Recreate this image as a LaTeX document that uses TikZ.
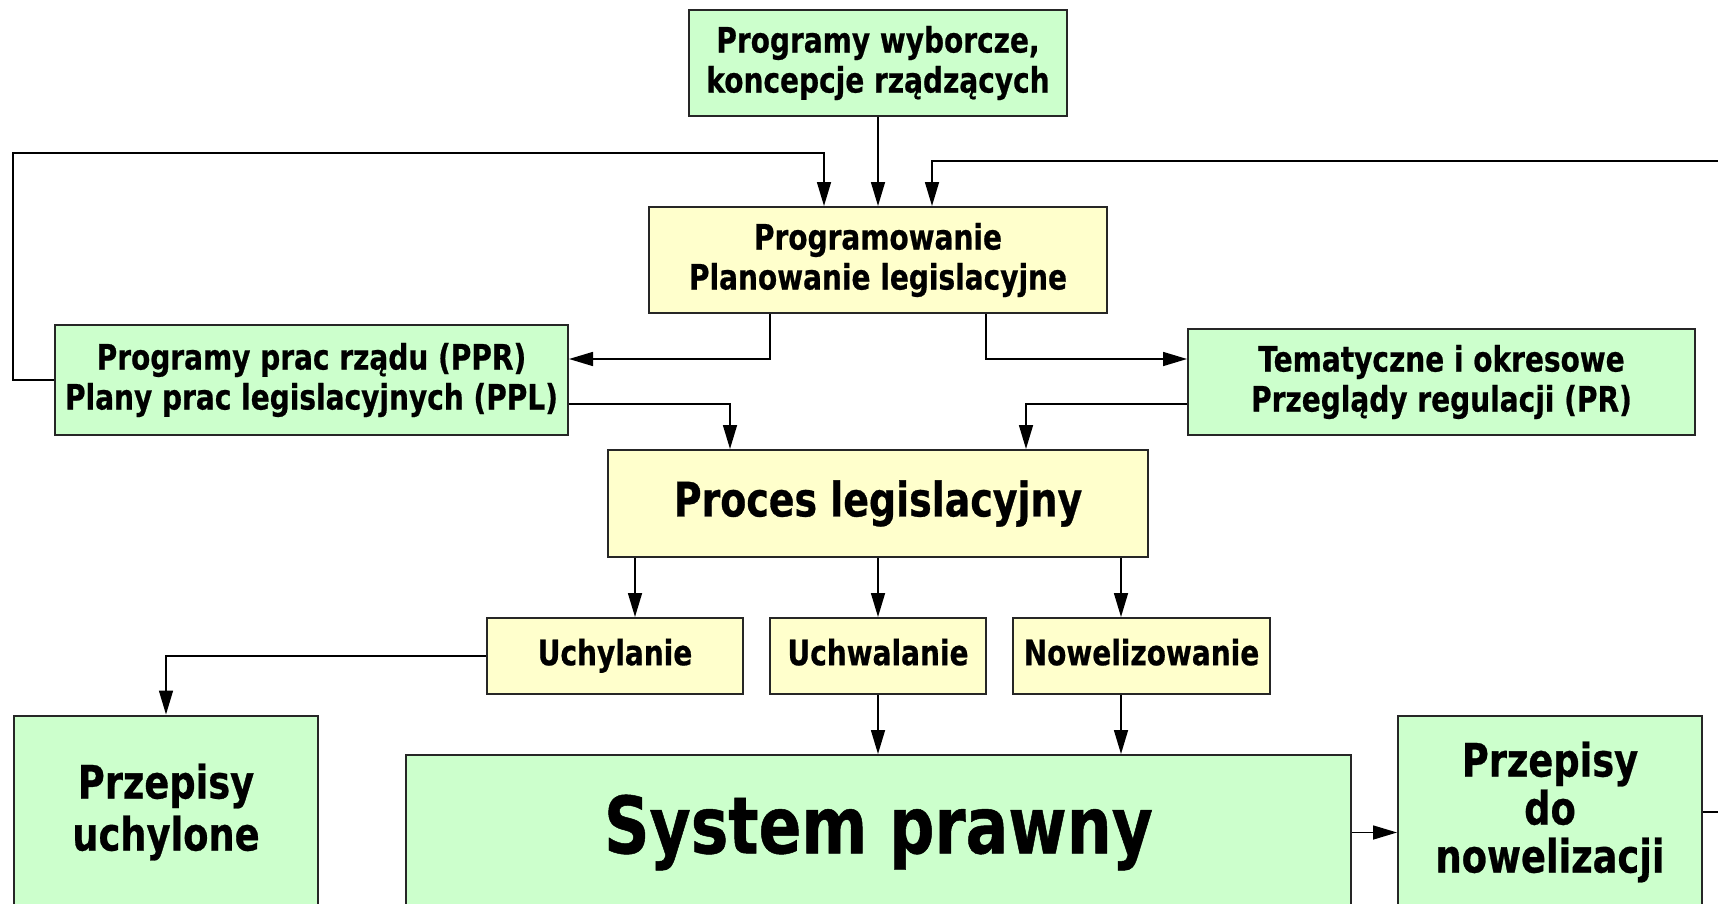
\documentclass[tikz,border=0pt]{standalone}
\usepackage{fontspec}
\setmainfont{DejaVu Sans}[FakeStretch=0.8,BoldFeatures={FakeBold=0.6}]
\usetikzlibrary{arrows.meta}
\definecolor{grn}{HTML}{CCFFCC}
\definecolor{yel}{HTML}{FFFFCC}
\begin{document}
\begin{tikzpicture}[x=0.5pt,y=-0.5pt,
  box/.style={draw=black!85, line width=1pt, inner sep=0pt, align=center,
    font=\bfseries\fontsize{17.5pt}{20pt}\selectfont},
  gbox/.style={box, fill=grn},
  ybox/.style={box, fill=yel},
  small/.style={ybox, minimum height=38pt, text height=13.3pt, text depth=4.1pt},
  conn/.style={line width=0.8pt, -{Triangle[length=12pt,width=7pt]}}]
\useasboundingbox (0,0) rectangle (1718,904);
\clip (0,0) rectangle (1718,904);
\fill[white] (0,0) rectangle (1718,904);

\node[gbox, minimum width=189pt, minimum height=53pt] (wyb) at (878,63)
  {Programy wyborcze,\\koncepcje rządzących};
\node[ybox, minimum width=229pt, minimum height=53pt] (prog) at (878,260)
  {Programowanie\\Planowanie legislacyjne};
\node[gbox, minimum width=256.5pt, minimum height=55pt] (ppr) at (311.5,380)
  {Programy prac rządu (PPR)\\Plany prac legislacyjnych (PPL)};
\node[gbox, minimum width=253.5pt, minimum height=53pt] (tem) at (1441.5,382)
  {Tematyczne i okresowe\\Przeglądy regulacji (PR)};
\node[ybox, minimum width=270pt, minimum height=53.5pt,
  font=\bfseries\fontsize{23.7pt}{28pt}\selectfont] (proc) at (878,503.5)
  {Proces legislacyjny};
\node[small, minimum width=128pt] (uchyl) at (615,656) {Uchylanie};
\node[small, minimum width=108pt] (uchw) at (878,656) {Uchwalanie};
\node[small, minimum width=128.5pt] (now) at (1141.5,656) {Nowelizowanie};
\node[gbox, minimum width=152pt, minimum height=96.5pt,
  font=\bfseries\fontsize{23pt}{26pt}\selectfont] (pu) at (166,812)
  {Przepisy\\uchylone};
\node[gbox, minimum width=472.5pt, minimum height=77.5pt,
  font=\bfseries\fontsize{39.5pt}{44pt}\selectfont] (sys) at (878.5,832.5)
  {System prawny};
\node[gbox, minimum width=152pt, minimum height=96.5pt,
  font=\bfseries\fontsize{23pt}{24pt}\selectfont] (pdn) at (1550,812)
  {Przepisy\\do\\nowelizacji};

\draw[conn] (wyb.south) -- (prog.north);
\draw[conn] (ppr.west) -- ++(-20.5pt,0) |- ([xshift=-27pt,yshift=26.5pt]prog.north)
  -- ([xshift=-27pt]prog.north);
\draw[conn] (pdn.east) -- ++(30pt,0) |- ([xshift=27pt,yshift=22.5pt]prog.north)
  -- ([xshift=27pt]prog.north);
\draw[conn] ([xshift=-54pt]prog.south) |- ([yshift=10.5pt]ppr.east);
\draw[conn] ([xshift=54pt]prog.south) |- ([yshift=11.5pt]tem.west);
\draw[conn] ([yshift=-12pt]ppr.east) -| ([xshift=-74pt]proc.north);
\draw[conn] ([yshift=-11pt]tem.west) -| ([xshift=74pt]proc.north);
\draw[conn] ([xshift=-121.5pt]proc.south) -- ([xshift=-121.5pt]proc.south |- uchyl.north);
\draw[conn] (proc.south) -- (uchw.north);
\draw[conn] ([xshift=121.5pt]proc.south) -- ([xshift=121.5pt]proc.south |- now.north);
\draw[conn] (uchyl.west) -| (pu.north);
\draw[conn] (uchw.south) -- (uchw.south |- sys.north);
\draw[conn] ([xshift=-10.25pt]now.south) -- ([xshift=-10.25pt]now.south |- sys.north);
\draw[conn] (sys.east) -- (sys.east -| pdn.west);
\end{tikzpicture}
\end{document}
